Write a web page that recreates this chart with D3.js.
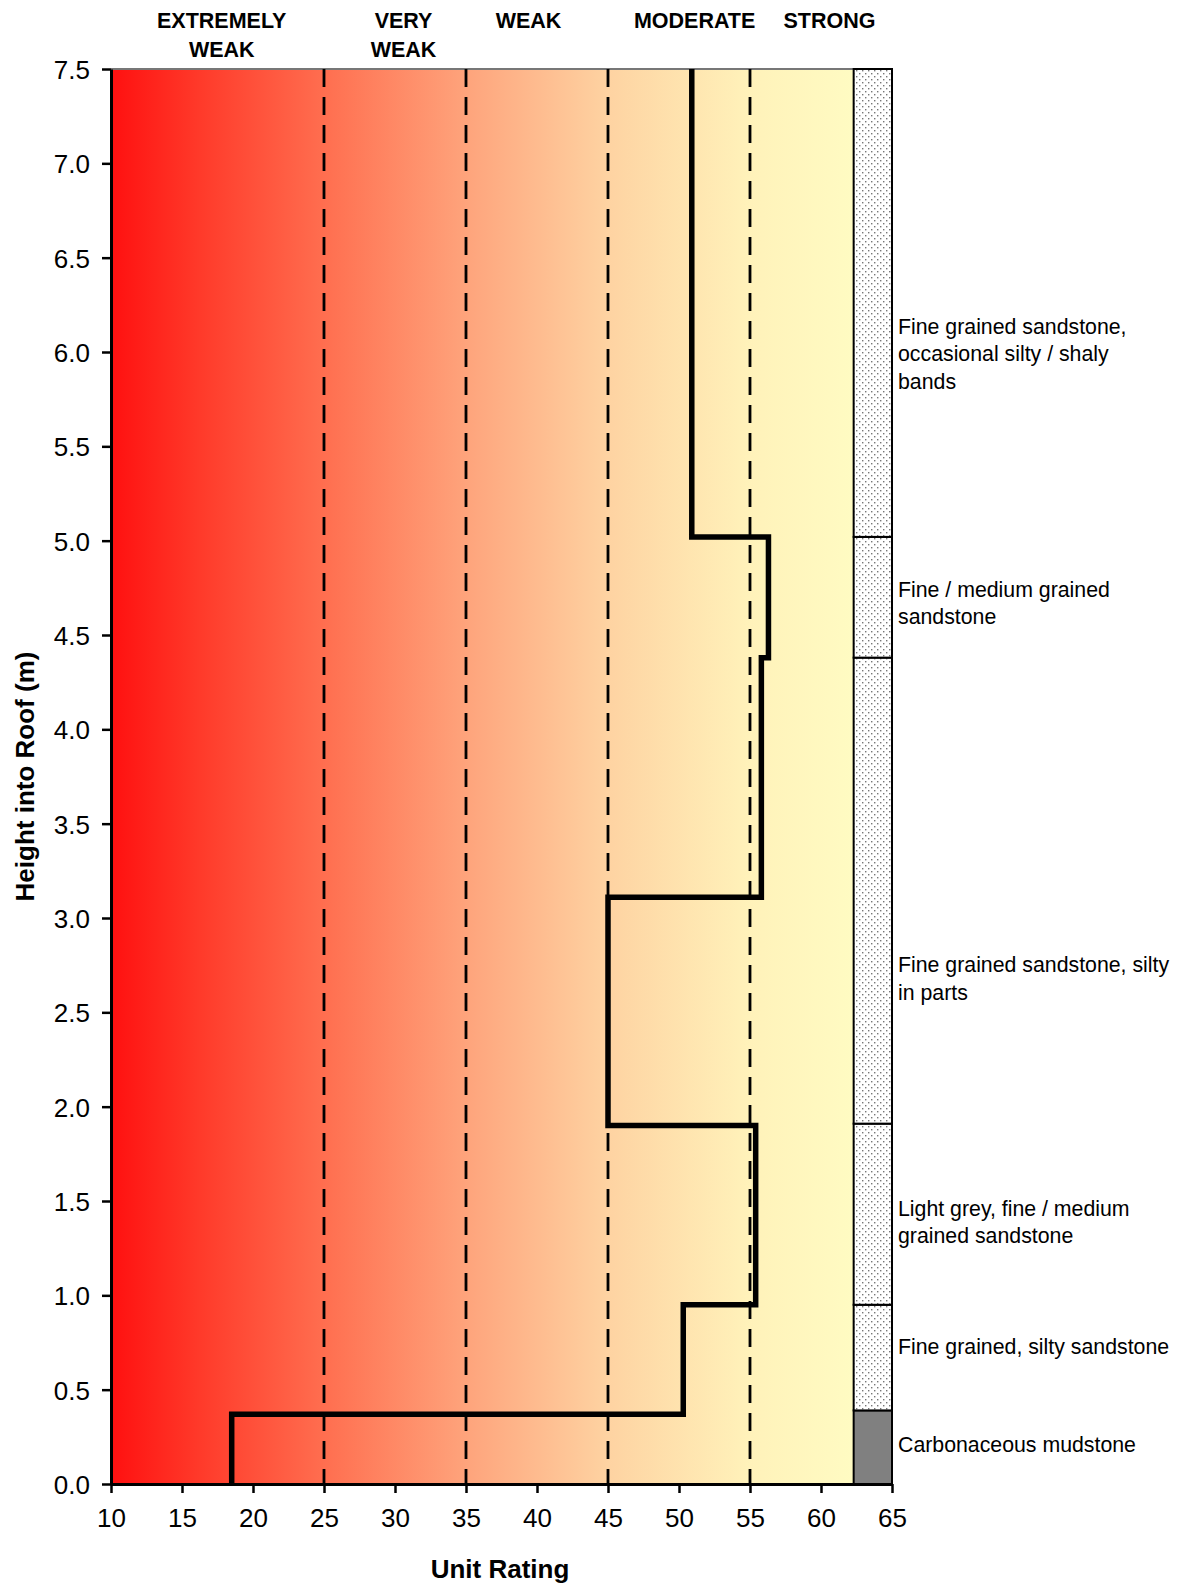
<!DOCTYPE html>
<html>
<head>
<meta charset="utf-8">
<script src="https://cdn.jsdelivr.net/npm/d3@7"></script>
<style>
  body { margin: 0; background: #fff; }
  svg text { font-family: "Liberation Sans", Arial, sans-serif; fill: #000; }
</style>
</head>
<body>
<div id="chart"></div>
<script>
// step profile: heights bounding each unit and the unit rating within it
const unitTops = [0, 0.37, 0.95, 1.9, 3.11, 4.38, 5.02, 7.5];
const unitRatings = [18.5, 50.3, 55.4, 45.0, 55.8, 56.3, 50.9];

// strength class boundaries (dashed lines) and class names
const classBreaks = [25, 35, 45, 55];
const classNames = [["EXTREMELY", "WEAK"], ["VERY", "WEAK"], ["WEAK"], ["MODERATE"], ["STRONG"]];
const classLabelAt = [17.8, 30.6, 39.4, 51.1, 60.6];

// lithology column
const layerBase = [0, 0.39, 0.95, 1.91, 4.38, 5.02];
const layerTop = [0.39, 0.95, 1.91, 4.38, 5.02, 7.5];
const layerSolid = [true, false, false, false, false, false];
const layerNames = [
  ["Carbonaceous mudstone"],
  ["Fine grained, silty sandstone"],
  ["Light grey, fine / medium", "grained sandstone"],
  ["Fine grained sandstone, silty", "in parts"],
  ["Fine / medium grained", "sandstone"],
  ["Fine grained sandstone,", "occasional silty / shaly", "bands"]
];
const layerLabelAt = [0.21, 0.73, 1.39, 2.68, 4.67, 5.99];

const xTicks = d3.range(10, 66, 5);
const yTicks = d3.range(0, 7.51, 0.5);

const W = 1181, H = 1585;
const margin = { top: 69, right: 289, bottom: 101, left: 111 };
const columnFrom = 62.3;

const svg = d3.select("#chart").append("svg")
  .attr("width", W).attr("height", H);

const x = d3.scaleLinear().domain([10, 65]).range([margin.left, W - margin.right]);
const y = d3.scaleLinear().domain([0, 7.5]).range([H - margin.bottom, margin.top]);

const defs = svg.append("defs");
const grad = defs.append("linearGradient").attr("id", "strength")
  .attr("x1", "0%").attr("x2", "100%").attr("y1", "0%").attr("y2", "0%");
[["0%", "#ff1010"], ["12%", "#ff3a2a"], ["29%", "#ff6f50"], ["48%", "#fea47c"],
 ["67%", "#fed3a2"], ["86%", "#fff2ba"], ["100%", "#fffbc2"]].forEach(s => {
  grad.append("stop").attr("offset", s[0]).attr("stop-color", s[1]);
});

const dots = defs.append("pattern").attr("id", "stipple")
  .attr("width", 6).attr("height", 6).attr("patternUnits", "userSpaceOnUse");
dots.append("rect").attr("width", 6).attr("height", 6).attr("fill", "#fff");
dots.append("rect").attr("x", 1).attr("y", 1).attr("width", 1.4).attr("height", 1.4).attr("fill", "#777");
dots.append("rect").attr("x", 4).attr("y", 4).attr("width", 1.4).attr("height", 1.4).attr("fill", "#777");

// background gradient
svg.append("rect")
  .attr("x", x(10)).attr("y", y(7.5))
  .attr("width", x(columnFrom) - x(10)).attr("height", y(0) - y(7.5))
  .attr("fill", "url(#strength)");

svg.append("line")
  .attr("x1", x(10)).attr("x2", x(columnFrom))
  .attr("y1", y(7.5)).attr("y2", y(7.5))
  .attr("stroke", "#777").attr("stroke-width", 2);

// class boundaries
svg.selectAll("line.cls").data(classBreaks).join("line")
  .attr("class", "cls")
  .attr("x1", d => x(d)).attr("x2", d => x(d))
  .attr("y1", y(7.5)).attr("y2", y(0))
  .attr("stroke", "#000").attr("stroke-width", 2.8)
  .attr("stroke-dasharray", "18,10");

// lithology column
layerBase.forEach((b, i) => {
  svg.append("rect")
    .attr("x", x(columnFrom)).attr("y", y(layerTop[i]))
    .attr("width", x(65) - x(columnFrom)).attr("height", y(b) - y(layerTop[i]))
    .attr("fill", layerSolid[i] ? "#808080" : "url(#stipple)")
    .attr("stroke", "#000").attr("stroke-width", 2);

  const lines = layerNames[i];
  const t = svg.append("text")
    .attr("x", x(65) + 6)
    .attr("y", y(layerLabelAt[i]) - (lines.length - 1) * 27.3 / 2 + 7.5)
    .style("font-size", "21.3px");
  lines.forEach((ln, j) => {
    t.append("tspan").attr("x", x(65) + 6).attr("dy", j === 0 ? 0 : 27.3).text(ln);
  });
});

// rating profile
const pts = [];
unitRatings.forEach((r, i) => {
  pts.push([r, unitTops[i]]);
  pts.push([r, unitTops[i + 1]]);
});
svg.append("path")
  .datum(pts)
  .attr("fill", "none")
  .attr("stroke", "#000")
  .attr("stroke-width", 5.5)
  .attr("stroke-linejoin", "miter")
  .attr("d", d3.line().x(d => x(d[0])).y(d => y(d[1])));

// axes
const yAxis = svg.append("g")
  .attr("transform", `translate(${x(10)},0)`)
  .call(d3.axisLeft(y).tickValues(yTicks).tickFormat(d3.format(".1f")).tickSize(9).tickSizeOuter(0).tickPadding(12));
const xAxis = svg.append("g")
  .attr("transform", `translate(0,${y(0)})`)
  .call(d3.axisBottom(x).tickValues(xTicks).tickSize(9).tickSizeOuter(0).tickPadding(16));

[yAxis, xAxis].forEach(g => {
  g.select(".domain").attr("stroke", "#000").attr("stroke-width", 3);
  g.selectAll(".tick line").attr("stroke", "#000").attr("stroke-width", 2.5);
  g.selectAll(".tick text").style("font-size", "26px")
    .style("font-family", '"Liberation Sans", Arial, sans-serif').attr("fill", "#000");
});
yAxis.selectAll(".tick text").attr("dy", "0.36em");

// class names along the top
classNames.forEach((lines, i) => {
  const t = svg.append("text")
    .attr("x", x(classLabelAt[i])).attr("y", 28)
    .attr("text-anchor", "middle")
    .style("font-size", "21.5px").style("font-weight", "bold");
  lines.forEach((ln, j) => {
    t.append("tspan").attr("x", x(classLabelAt[i])).attr("dy", j === 0 ? 0 : 28.5).text(ln);
  });
});

// axis titles
svg.append("text")
  .attr("transform", `translate(34,${(y(0) + y(7.5)) / 2}) rotate(-90)`)
  .attr("text-anchor", "middle")
  .style("font-size", "26px").style("font-weight", "bold")
  .text("Height into Roof (m)");

svg.append("text")
  .attr("x", 500).attr("y", 1578)
  .attr("text-anchor", "middle")
  .style("font-size", "26px").style("font-weight", "bold")
  .text("Unit Rating");
</script>
</body>
</html>
